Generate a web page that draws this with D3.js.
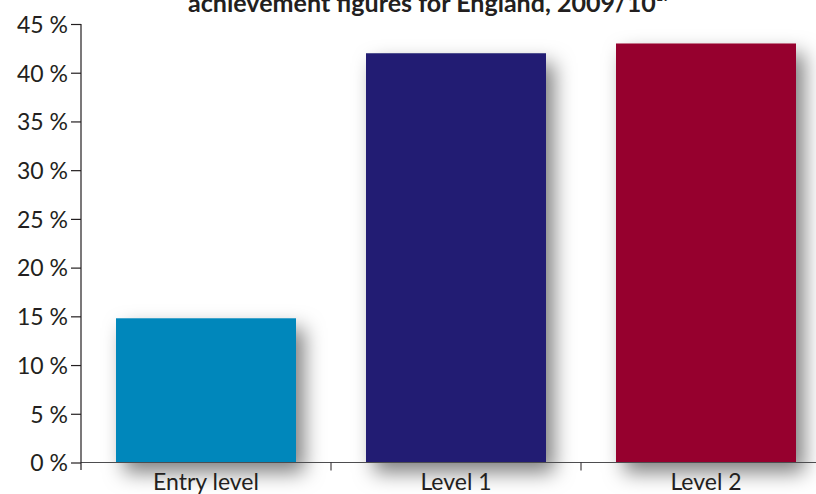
<!DOCTYPE html>
<html>
<head>
<meta charset="utf-8">
<script src="https://cdn.jsdelivr.net/npm/d3@7/dist/d3.min.js"></script>
<style>
  html, body { margin: 0; padding: 0; background: #ffffff; }
  svg { display: block; }
  text { font-family: Lato, "Open Sans", sans-serif; fill: #231f20; }
</style>
</head>
<body>
<svg id="chart" width="816" height="494"></svg>
<script>
const categories = ["Entry level", "Level 1", "Level 2"];
const values = [14.8, 42.0, 43.0];
const colors = ["#0087bb", "#231f73", "#96002e"];
const yTicks = [0, 5, 10, 15, 20, 25, 30, 35, 40, 45];
const titleText = "achievement figures for England, 2009/10";
const titleNote = "19";

const svg = d3.select("#chart");
const W = 816, H = 494;

const x = d3.scaleBand().domain(categories).range([81, 831]).paddingInner(0.28).paddingOuter(0.14);
const y = d3.scaleLinear().domain([0, 45]).range([462.5, 24]);

// drop shadow filter
const defs = svg.append("defs");
const f = defs.append("filter").attr("id", "shadow")
  .attr("x", "-40%").attr("y", "-40%").attr("width", "180%").attr("height", "180%");
f.append("feDropShadow").attr("dx", 8).attr("dy", 10).attr("stdDeviation", 10)
  .attr("flood-color", "#000").attr("flood-opacity", 0.5);

// title (partially cut off at top)
const title = svg.append("text")
  .attr("x", 188).attr("y", 12)
  .attr("font-weight", "bold")
  .attr("font-family", "'Open Sans', Lato, sans-serif")
  .attr("font-size", 20)
  .text(titleText);
const measured = title.node().getComputedTextLength();
const fs = 20 * 468 / measured;
title.attr("font-size", fs);
title.append("tspan").attr("font-size", fs * 0.5).attr("dy", -fs * 0.45).text(titleNote);

// bars
svg.append("g").selectAll("rect").data(categories).join("rect")
  .attr("x", d => x(d))
  .attr("y", (d, i) => y(values[i]))
  .attr("width", x.bandwidth())
  .attr("height", (d, i) => y(0) - y(values[i]))
  .attr("fill", (d, i) => colors[i])
  .attr("filter", "url(#shadow)");

// x axis line
svg.append("line").attr("x1", 81).attr("x2", W).attr("y1", y(0)).attr("y2", y(0))
  .attr("stroke", "#4d4d4f").attr("stroke-width", 1);
// boundary ticks between categories
const boundaries = categories.slice(1).map(c => x(c) - x.step() * x.paddingInner() / 2);
svg.append("g").selectAll("line").data(boundaries).join("line")
  .attr("x1", d => d).attr("x2", d => d)
  .attr("y1", y(0)).attr("y2", y(0) + 8)
  .attr("stroke", "#231f20").attr("stroke-width", 1);

// category labels
svg.append("g").selectAll("text").data(categories).join("text")
  .attr("x", d => x(d) + x.bandwidth() / 2)
  .attr("y", 490)
  .attr("text-anchor", "middle")
  .attr("font-size", 23)
  .text(d => d);

// y axis
const yAxis = d3.axisLeft(y).tickValues(yTicks).tickSize(10).tickPadding(3)
  .tickFormat(d => d + " %");
const gy = svg.append("g").attr("transform", "translate(81,0)").call(yAxis);
gy.select(".domain").remove();
gy.selectAll(".tick line").attr("stroke", "#231f20").attr("stroke-width", 1.2);
gy.selectAll(".tick text").attr("font-size", 23).attr("font-family", "Lato, sans-serif")
  .attr("fill", "#231f20").attr("dy", "0.36em");
svg.append("line").attr("x1", 81).attr("x2", 81).attr("y1", y(45)).attr("y2", 470)
  .attr("stroke", "#231f20").attr("stroke-width", 1.2);
</script>
</body>
</html>
